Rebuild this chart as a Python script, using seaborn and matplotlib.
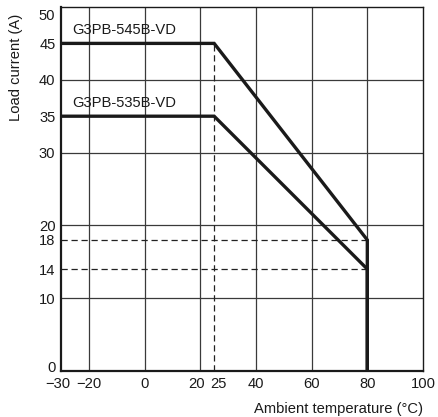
import matplotlib
matplotlib.use("Agg")
import matplotlib.pyplot as plt
import matplotlib.transforms as mtransforms
import seaborn as sns
import pandas as pd

# data
temp_545 = [-30, 25, 80, 80]
curr_545 = [45, 45, 18, 0]
temp_535 = [-30, 25, 80, 80]
curr_535 = [35, 35, 14, 0]
series_names = ["G3PB-545B-VD", "G3PB-535B-VD"]
x_ticks = [-30, -20, 0, 20, 25, 40, 60, 80, 100]
x_ticklabels = ["\u221230", "\u221220", "0", "20", "25", "40", "60", "80", "100"]
y_ticks = [0, 10, 14, 18, 20, 30, 35, 40, 45, 50]
y_ticklabels = ["0", "10", "14", "18", "20", "30", "35", "40", "45", "50"]
x_grid = [-20, 0, 20, 40, 60, 80]
y_grid = [10, 20, 30, 40]

sns.set_style("white")
plt.rcParams['font.family'] = ['Liberation Sans', 'DejaVu Sans']

FS = 10.6
fig = plt.figure(figsize=(4.39, 4.17), dpi=100)
ax = fig.add_axes([61/439, 46/417, (423-61)/439, (371-7)/417])

for g in x_grid:
    ax.axvline(g, color="#3a3a3a", lw=0.9, zorder=1)
for g in y_grid:
    ax.axhline(g, color="#3a3a3a", lw=0.9, zorder=1)

# dashed reference lines
ax.plot([25, 25], [0, 45], color="#222222", lw=0.9, ls=(0, (5, 3)), zorder=2)
ax.plot([-30, 80], [18, 18], color="#222222", lw=0.9, ls=(0, (5, 3)), zorder=2)
ax.plot([-30, 80], [14, 14], color="#222222", lw=0.9, ls=(0, (5, 3)), zorder=2)

df1 = pd.DataFrame({"t": temp_545, "i": curr_545})
df2 = pd.DataFrame({"t": temp_535, "i": curr_535})
for d in (df1, df2):
    sns.lineplot(data=d, x="t", y="i", sort=False, estimator=None, ax=ax,
                 color="#1a1a1a", lw=2.4, zorder=3, legend=False,
                 solid_joinstyle="miter")

ax.text(-26, 46.8, series_names[0], fontsize=FS, color="#1a1a1a", va="center")
ax.text(-26, 36.8, series_names[1], fontsize=FS, color="#1a1a1a", va="center")

ax.set_xlim(-30, 100)
ax.set_ylim(0, 50)
ax.set_xticks(x_ticks)
ax.set_xticklabels(x_ticklabels)
ax.set_yticks(y_ticks)
ax.set_yticklabels(y_ticklabels)
ax.tick_params(length=0, labelsize=FS, colors="#1a1a1a")
ax.tick_params(axis="x", pad=4.5)
ax.tick_params(axis="y", pad=4)
for sp in ax.spines.values():
    sp.set_color("#1a1a1a")
    sp.set_linewidth(1.0)
ax.spines["left"].set_linewidth(1.6)
ax.spines["bottom"].set_linewidth(1.6)

def shift(lbl, dx, dy):
    lbl.set_transform(lbl.get_transform() + mtransforms.ScaledTranslation(dx/100, dy/100, fig.dpi_scale_trans))

xl = ax.get_xticklabels()
shift(xl[0], -3, 0)
shift(xl[3], -4, 0)
shift(xl[4], 4, 0)
yl = ax.get_yticklabels()
shift(yl[-1], 0, -7)
shift(yl[0], 0, 4)

ax.set_xlabel("Ambient temperature (\u00b0C)", fontsize=FS, color="#1a1a1a", loc="right", labelpad=8)
ax.set_ylabel("Load current (A)", fontsize=FS, color="#1a1a1a")
ax.yaxis.set_label_coords(-(61-23)/362, (371-67)/364)

fig.savefig("out.png", dpi=100)
